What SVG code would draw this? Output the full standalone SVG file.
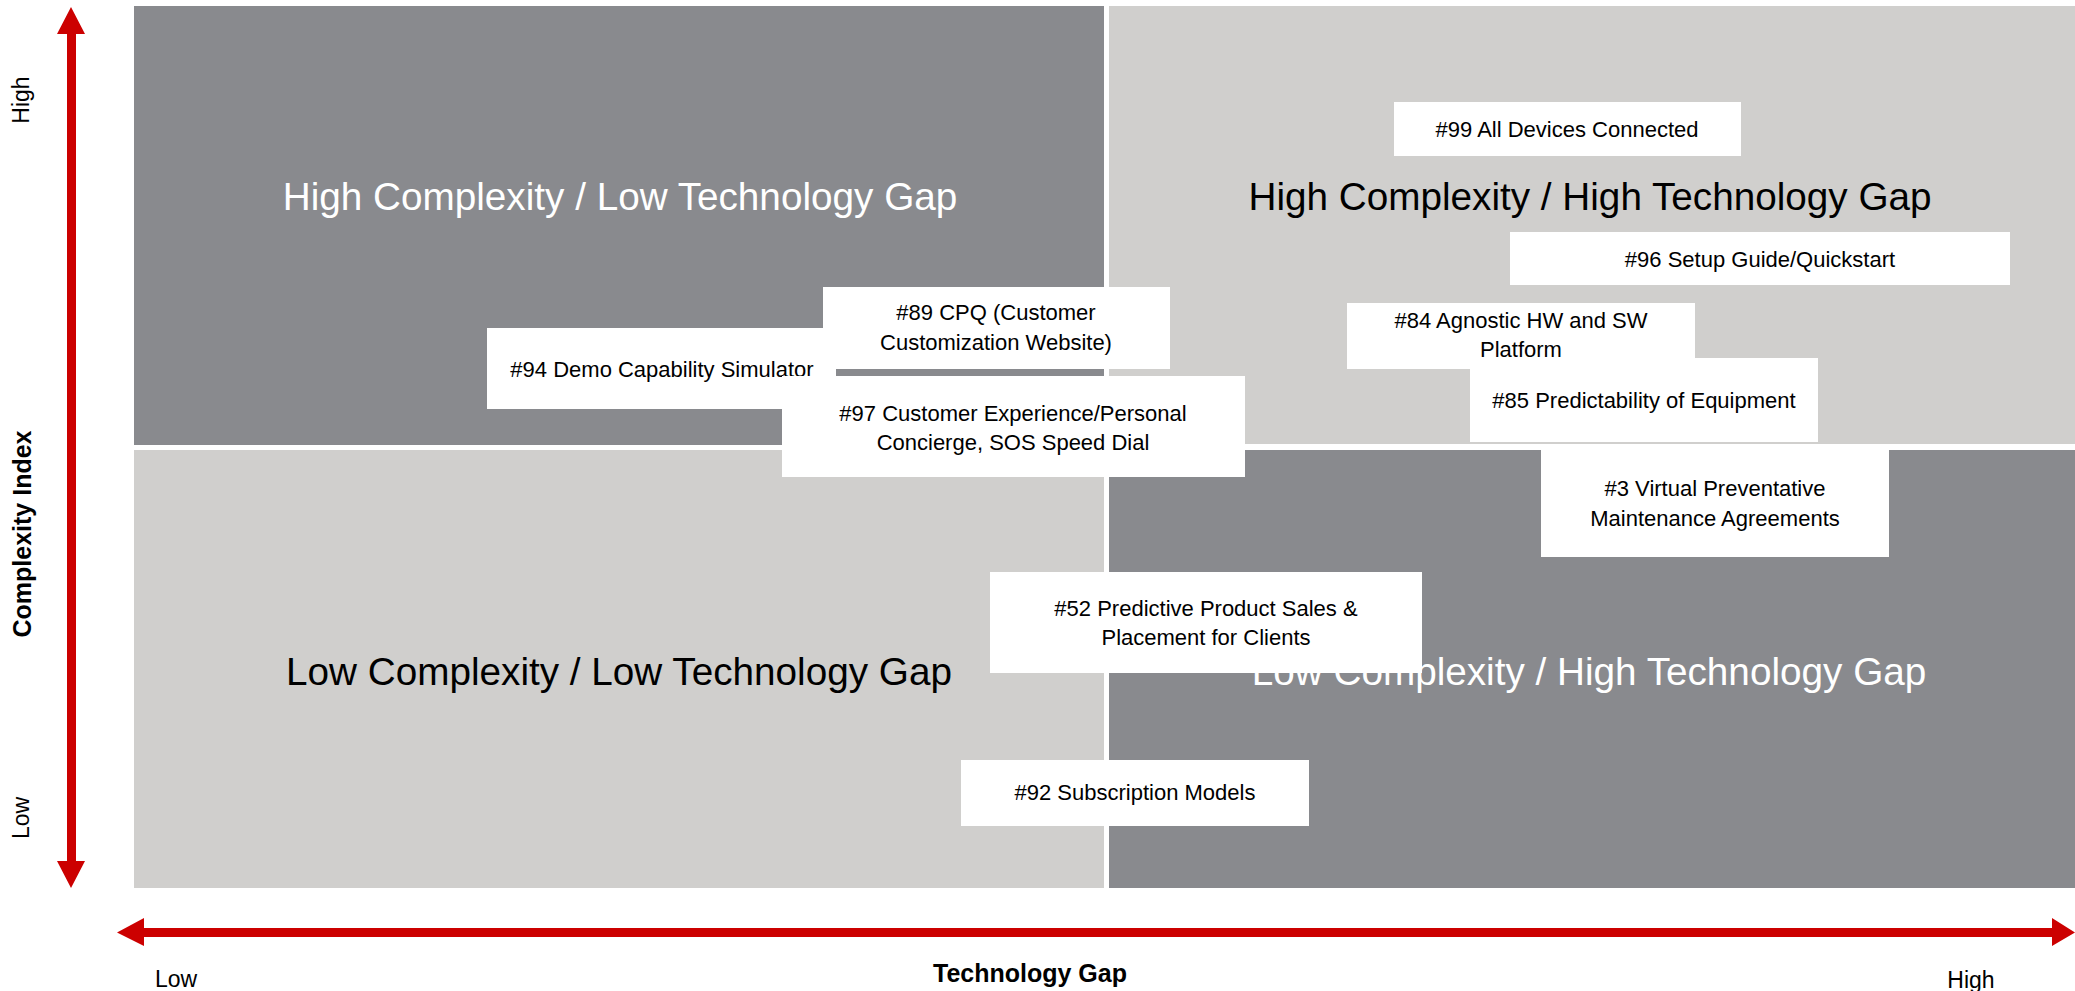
<svg xmlns="http://www.w3.org/2000/svg" width="2075" height="991" viewBox="0 0 2075 991">
<style>
.dark{fill:#898a8e}
.light{fill:#d0cfcd}
.box{fill:#ffffff}
.t{font-family:"Liberation Sans",Arial,sans-serif;font-size:22px;fill:#000;text-anchor:middle}
.title{font-family:"Liberation Sans",Arial,sans-serif;font-size:38.7px;text-anchor:middle}
.axis{font-family:"Liberation Sans",Arial,sans-serif;font-size:23px;fill:#000;text-anchor:middle}
.axisb{font-family:"Liberation Sans",Arial,sans-serif;font-size:25px;font-weight:bold;fill:#000;text-anchor:middle}
.red{fill:#cc0000}
</style>
<rect width="2075" height="991" fill="#ffffff"/>
<g id="quadrants">
<rect class="dark" x="134" y="6" width="970" height="439"/>
<rect class="light" x="1109" y="6" width="966" height="438"/>
<rect class="light" x="134" y="450" width="970" height="438"/>
<rect class="dark" x="1109" y="450" width="966" height="438"/>
<text class="title" x="620" y="210" fill="#ffffff">High Complexity / Low Technology Gap</text>
<text class="title" x="1590" y="210" fill="#000000">High Complexity / High Technology Gap</text>
<text class="title" x="619" y="685" fill="#000000">Low Complexity / Low Technology Gap</text>
<text class="title" x="1589" y="685" fill="#ffffff">Low Complexity / High Technology Gap</text>
</g>
<g id="connectors">
<path class="red" d="M67,34 H57 L71,7 L85,34 H76 V861 H85 L71,888 L57,861 H67 Z"/>
<path class="red" d="M144,928 V918 L117,932.5 L144,946 V937 H2052 V946 L2075,932.5 L2052,918 V928 Z"/>
</g>
<g id="axis-labels">
<text class="axis" transform="translate(29,100) rotate(-90)">High</text>
<text class="axis" transform="translate(29,818) rotate(-90)">Low</text>
<text class="axisb" transform="translate(31,534) rotate(-90)">Complexity Index</text>
<text class="axis" x="176" y="987">Low</text>
<text class="axis" x="1971" y="988">High</text>
<text class="axisb" x="1030" y="982">Technology Gap</text>
</g>
<g id="n99"><rect class="box" x="1394" y="102" width="347" height="54"/><text class="t" x="1567" y="137">#99 All Devices Connected</text></g>
<g id="n96"><rect class="box" x="1510" y="232" width="500" height="53"/><text class="t" x="1760" y="267">#96 Setup Guide/Quickstart</text></g>
<g id="n84"><rect class="box" x="1347" y="303" width="348" height="66"/><text class="t" x="1521" y="328">#84 Agnostic HW and SW</text><text class="t" x="1521" y="357">Platform</text></g>
<g id="n85"><rect class="box" x="1470" y="358" width="348" height="84"/><text class="t" x="1644" y="408">#85 Predictability of Equipment</text></g>
<g id="n3"><rect class="box" x="1541" y="450" width="348" height="107"/><text class="t" x="1715" y="496">#3 Virtual Preventative</text><text class="t" x="1715" y="526">Maintenance Agreements</text></g>
<g id="n94"><rect class="box" x="487" y="328" width="349" height="81"/><text class="t" x="662" y="377">#94 Demo Capability Simulator</text></g>
<g id="n89"><rect class="box" x="823" y="287" width="347" height="82"/><text class="t" x="996" y="320">#89 CPQ (Customer</text><text class="t" x="996" y="350">Customization Website)</text></g>
<g id="n97"><rect class="box" x="782" y="376" width="463" height="101"/><text class="t" x="1013" y="421">#97 Customer Experience/Personal</text><text class="t" x="1013" y="450">Concierge, SOS Speed Dial</text></g>
<g id="n52"><rect class="box" x="990" y="572" width="432" height="101"/><text class="t" x="1206" y="616">#52 Predictive Product Sales &amp;</text><text class="t" x="1206" y="645">Placement for Clients</text></g>
<g id="n92"><rect class="box" x="961" y="760" width="348" height="66"/><text class="t" x="1135" y="800">#92 Subscription Models</text></g>
</svg>
